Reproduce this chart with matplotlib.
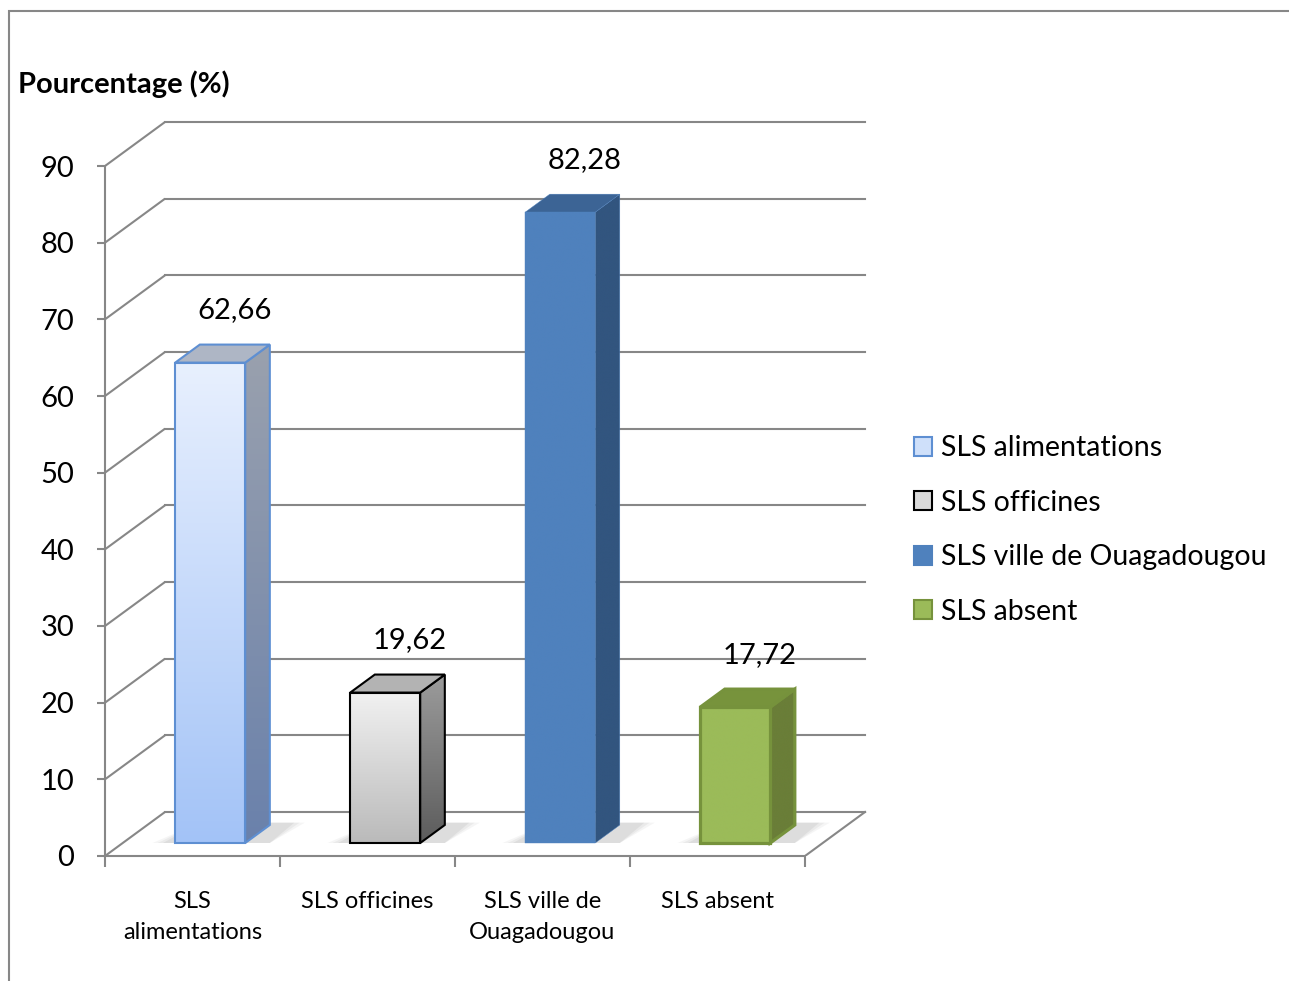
import numpy as np
import matplotlib.pyplot as plt
from matplotlib.patches import Polygon, Patch, Rectangle
from matplotlib.colors import LinearSegmentedColormap

plt.rcParams['font.family'] = ['Lato', 'DejaVu Sans']

categories = ["SLS\nalimentations", "SLS officines", "SLS ville de\nOuagadougou", "SLS absent"]
series_names = ["SLS alimentations", "SLS officines", "SLS ville de Ouagadougou", "SLS absent"]
values = [62.66, 19.62, 82.28, 17.72]
value_labels = ["62,66", "19,62", "82,28", "17,72"]
yticks = list(range(0, 100, 10))

# face colours: (front top, front bottom, side top, side bottom, top face, edge, edge width)
styles = [
    ("#E8F0FE", "#A3C3F7", "#9AA1AE", "#6A81AB", "#AEB6C5", "#5E8FD2", 1.5),
    ("#F1F1F1", "#BABABA", "#9C9C9C", "#5C5C5C", "#B3B3B3", "#000000", 1.5),
    ("#4F81BD", "#4F81BD", "#32557F", "#32557F", "#3C6495", "#4F81BD", 0.3),
    ("#9BBB59", "#9BBB59", "#6A7E38", "#6A7E38", "#77933C", "#76923C", 2.3),
]
legend_faces = ["#CFE0FA", "#D9D9D9", "#4F81BD", "#9BBB59"]

# 3D depth of the chart box, in data units
DX, DY = 0.343, 5.74
F0, F1 = 0.295, 0.705
BAR_W = 0.4
GRID = "#878787"


def gradient_fill(ax, patch, c_top, c_bot, extent, z):
    cmap = LinearSegmentedColormap.from_list("g", [c_bot, c_top])
    grad = np.linspace(0, 1, 256).reshape(-1, 1)
    im = ax.imshow(grad, cmap=cmap, extent=extent, origin="lower",
                   aspect="auto", zorder=z, interpolation="bicubic")
    im.set_clip_path(patch)


fig = plt.figure(figsize=(12.89, 9.81), dpi=100)
ax = fig.add_axes([105 / 1289, 125 / 981, 770 / 1289, 736 / 981])
ax.set_xlim(0, 4.4)
ax.set_ylim(0, 96)

# walls and floor
for v in yticks:
    ax.plot([0, DX], [v, v + DY], color=GRID, lw=1.5, zorder=1, solid_capstyle="butt")
    ax.plot([DX, 4 + DX], [v + DY, v + DY], color=GRID, lw=1.5, zorder=1)
ax.plot([4, 4 + DX], [0, DY], color=GRID, lw=1.5, zorder=1)

# bars
ddx, ddy = (F1 - F0) * DX, (F1 - F0) * DY
for i, v in enumerate(values):
    ft, fb, st, sb, tc, ec, lw = styles[i]
    xl = i + 0.5 + F0 * DX - BAR_W / 2
    xr = xl + BAR_W
    y0 = F0 * DY
    top = v + F0 * DY

    # soft floor shadow
    for k, a in enumerate([0.06, 0.07, 0.09]):
        g = 0.03 * (2 - k)
        ax.add_patch(Polygon([(xl - 0.07 - g, y0), (xr + ddx, y0),
                              (xr + ddx + 0.14 + g, y0 + ddy + 0.3),
                              (xl + ddx, y0 + ddy + 0.3)],
                             closed=True, facecolor="#606060", edgecolor="none",
                             alpha=a, zorder=2))

    front = ax.bar(xl, v, width=BAR_W, bottom=y0, align="edge",
                   facecolor="none", edgecolor=ec, lw=lw, zorder=6)[0]
    gradient_fill(ax, front, ft, fb, (xl, xr, y0, top), 5)

    side = Polygon([(xr, y0), (xr + ddx, y0 + ddy), (xr + ddx, top + ddy), (xr, top)],
                   closed=True, facecolor="none", edgecolor=ec, lw=lw, zorder=4)
    ax.add_patch(side)
    gradient_fill(ax, side, st, sb, (xr, xr + ddx, y0, top + ddy), 3)

    lid = Polygon([(xl, top), (xl + ddx, top + ddy), (xr + ddx, top + ddy), (xr, top)],
                  closed=True, facecolor=tc, edgecolor=ec, lw=lw, zorder=4)
    ax.add_patch(lid)

    ax.text(i + 0.5 + 0.24, v + 8.5, value_labels[i], ha="center", va="center",
            fontsize=21, zorder=7)

# axes
for s in ["top", "right"]:
    ax.spines[s].set_visible(False)
for s in ["left", "bottom"]:
    ax.spines[s].set_color(GRID)
    ax.spines[s].set_linewidth(1.5)
ax.spines["left"].set_bounds(0, 90)
ax.spines["bottom"].set_bounds(0, 4)
ax.set_yticks(yticks)
ax.tick_params(axis="y", length=6, width=1.5, color=GRID, pad=16, labelsize=21)
ax.set_xticks([0.5, 1.5, 2.5, 3.5])
ax.set_xticklabels(categories, fontsize=17, linespacing=1.6, va="top")
ax.set_xticks([0, 1, 2, 3, 4], minor=True)
ax.tick_params(axis="x", which="major", length=0, pad=25)
ax.tick_params(axis="x", which="minor", length=8, width=1.5, color=GRID)

fig.text(18 / 1289, 1 - 84 / 981, "Pourcentage (%)", fontsize=21, fontweight="bold",
         ha="left", va="center")

handles = [Patch(facecolor=legend_faces[i], edgecolor=styles[i][5], lw=1.5)
           for i in range(4)]
fig.legend(handles, series_names, loc="center left",
           bbox_to_anchor=(888 / 1289, 1 - 530 / 981), frameon=False, fontsize=20.5,
           handlelength=0.65, handleheight=0.65, handletextpad=0.3, labelspacing=1.0)

# outer border (right and bottom edges fall outside the picture)
fig.patches.append(Rectangle((9 / 1289, -0.05), 1.1, 1.05 - 11 / 981,
                             transform=fig.transFigure, facecolor="none",
                             edgecolor=GRID, lw=1.5))

fig.savefig("out.png", dpi=100)
